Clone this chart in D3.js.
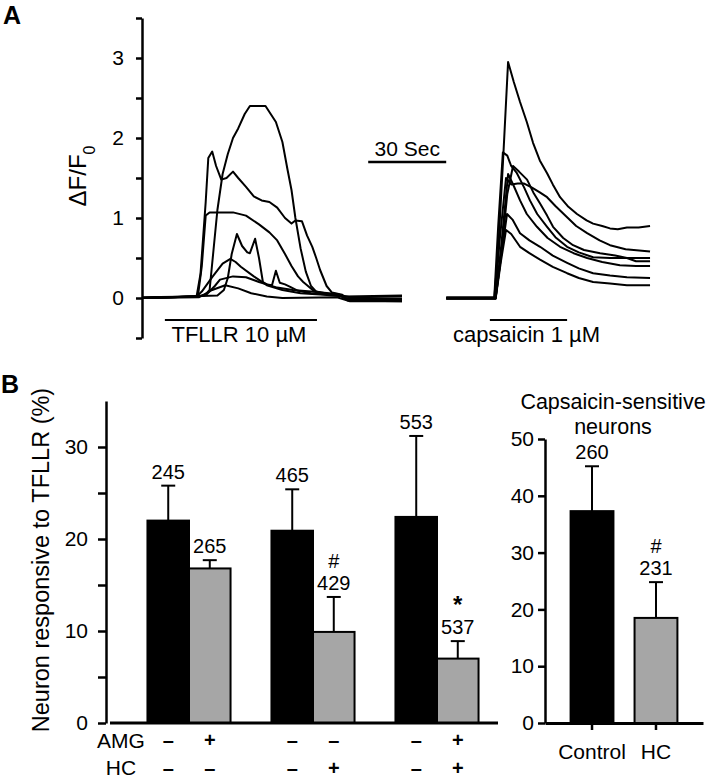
<!DOCTYPE html>
<html>
<head>
<meta charset="utf-8">
<script src="https://cdn.jsdelivr.net/npm/d3@7"></script>
<style>
  body { margin: 0; background: #fff; }
  svg { display: block; font-family: "Liberation Sans", Arial, sans-serif; }
</style>
</head>
<body>
<div id="chart"></div>
<script>
// ---- panel A: calcium traces (time in s, dF/F0) ----
const traceA = [[0,0],[12,0.01],[24,0.03],[26,0.1],[27.5,0.6],[29,1.1],[31,1.55],[33,1.8],[35,2.0],[37,2.12],[39.5,2.3],[41.5,2.4],[47.5,2.4],[51.5,2.2],[54,1.95],[56,1.6],[57.5,1.35],[59,1.0],[61,0.62],[63,0.33],[65,0.15],[67,0.08],[72,0.05],[76,0.04],[78,0],[100,-0.02]];
const traceB = [[0,0.01],[21,0.02],[22.5,0.3],[24.5,1.2],[25.5,1.75],[27,1.83],[28.5,1.65],[30.5,1.48],[32.5,1.5],[35,1.58],[37,1.5],[40,1.39],[43,1.27],[46,1.22],[49,1.2],[52,1.13],[55,1.0],[57.5,0.93],[59,0.97],[61.5,0.96],[63.5,0.78],[65.5,0.64],[67,0.5],[68.5,0.35],[71,0.15],[73,0.07],[77,0.04],[79,-0.03],[100,-0.04]];
const traceC = [[0,0],[21.5,0.02],[23,0.4],[24.5,1.03],[26,1.07],[35,1.07],[40,1.03],[45,0.92],[49,0.82],[52,0.72],[55,0.55],[57.5,0.4],[60,0.27],[62,0.2],[66,0.09],[70,0.05],[77,0.03],[80,0.01],[100,0.02]];
const traceD = [[0,0],[29,0.03],[31.5,0.1],[33,0.25],[34.5,0.55],[36.5,0.8],[38.5,0.65],[40.5,0.57],[41.5,0.56],[43.5,0.74],[45,0.5],[46.5,0.2],[48,0.17],[50,0.16],[51.5,0.34],[53,0.19],[55,0.17],[57,0.14],[60,0.09],[65,0.06],[76,0.03],[79,-0.02],[100,-0.03]];
const traceE = [[0,0],[21,0.02],[23,0.08],[27,0.26],[31,0.43],[34,0.49],[36,0.45],[38,0.39],[43,0.27],[48,0.16],[54,0.1],[61,0.06],[70,0.04],[78,0.02],[100,0.03]];
const traceF = [[0,0],[22,0.02],[25,0.05],[28,0.15],[30,0.23],[35,0.27],[40,0.26],[45,0.2],[52,0.13],[58,0.1],[65,0.08],[75,0.05],[79,-0.01],[100,-0.01]];
const traceG = [[0,0],[22,0.01],[27,0.1],[32,0.16],[37,0.12],[42,0.06],[48,0.02],[54,0],[75,0.01],[80,-0.04],[100,-0.04]];
const tfllrTraces = [traceA, traceB, traceC, traceD, traceE, traceF, traceG];

const caps1 = [[117,0],[135.5,0],[137,0.6],[139,1.8],[140.8,2.95],[143,2.7],[145.4,2.45],[148,2.2],[150.4,1.94],[153,1.72],[155.8,1.56],[158,1.42],[160.8,1.26],[164,1.14],[167.3,1.05],[171,0.97],[173.5,0.93],[177,0.9],[180,0.87],[183,0.86],[186.5,0.88],[191,0.88],[195.4,0.9]];
const caps2 = [[117,0.01],[135.5,0.01],[137,0.9],[138.8,1.82],[140.5,1.78],[142,1.65],[144.2,1.56],[147,1.38],[149.2,1.22],[152,1.05],[155.8,0.89],[159,0.76],[163.5,0.64],[168,0.57],[173.5,0.51],[180,0.5],[186.5,0.5],[190,0.46],[195.4,0.46]];
const caps3 = [[117,-0.01],[135.8,-0.01],[137.5,0.7],[140,1.5],[142,1.42],[144.5,1.43],[147,1.43],[150,1.38],[153,1.32],[155.8,1.26],[159,1.15],[163.5,1.01],[167,0.9],[171.2,0.81],[176,0.72],[180,0.66],[186,0.61],[195.4,0.58]];
const caps4 = [[117,0],[136,0],[138,0.5],[140.5,1.3],[142.7,1.65],[145,1.58],[148.1,1.48],[150.5,1.32],[153.1,1.18],[155.8,1.03],[158.1,0.89],[162,0.75],[165.8,0.66],[170,0.6],[176.2,0.56],[182,0.53],[186.5,0.5],[195.4,0.5]];
const caps5 = [[117,0],[136,0],[138,0.6],[140.8,1.55],[143,1.4],[145.4,1.22],[148,1.05],[151.9,0.89],[156,0.75],[160.8,0.64],[166,0.56],[171.2,0.5],[177,0.45],[183.8,0.41],[190,0.4],[195.4,0.4]];
const caps6 = [[117,0],[136,0],[138,0.5],[140.4,1.05],[142.5,0.98],[145.4,0.81],[149,0.72],[153.1,0.64],[158,0.53],[163.5,0.44],[168,0.37],[173.5,0.31],[180,0.28],[186.5,0.26],[195.4,0.25]];
const caps7 = [[117,-0.01],[136,-0.01],[138,0.45],[140,0.85],[142,0.8],[145.4,0.64],[149,0.56],[153.1,0.48],[158,0.39],[163.5,0.31],[168,0.25],[173.5,0.2],[180,0.18],[186.5,0.16],[195.4,0.16]];
const capsTraces = [caps1, caps2, caps3, caps4, caps5, caps6, caps7];

const yTicksA = [0, 1, 2, 3];
const stimBars = [
  { label: 'TFLLR 10 \u00b5M', t0: 8.8, t1: 67.3 },
  { label: 'capsaicin 1 \u00b5M', t0: 133.8, t1: 163.5 }
];
const scaleBarStart = 87, scaleBarSec = 30, scaleBarLevel = 1.7;

// ---- panel B: bar charts ----
const groups = ['g1', 'g2', 'g3'];
const conds = ['ctrl', 'treat'];
const tfllrMean = [22.0, 16.8, 20.9, 9.9, 22.4, 7.0];
const tfllrErr  = [3.8, 0.9, 4.5, 3.8, 8.8, 1.9];
const tfllrN    = ['245', '265', '465', '429', '553', '537'];
const tfllrMark = ['', '', '', '#', '', '*'];
const amgRow = ['\u2013', '+', '\u2013', '\u2013', '\u2013', '+'];
const hcRow  = ['\u2013', '\u2013', '\u2013', '+', '\u2013', '+'];
const yTicksB = [0, 10, 20, 30];

const capsGroups = ['Control', 'HC'];
const capsMean = [37.3, 18.5];
const capsErr  = [7.9, 6.3];
const capsN    = ['260', '231'];
const capsMark = ['', '#'];
const yTicksC = [0, 10, 20, 30, 40, 50];

const w = 714, h = 778;
const fs = 21;
const svg = d3.select('#chart').append('svg').attr('width', w).attr('height', h);
svg.append('rect').attr('width', w).attr('height', h).attr('fill', '#fff');

const fill = ['#000', '#a6a6a6'];

// ===== panel A =====
const xT = d3.scaleLinear().domain([0, 200]).range([142, 662]);
const yA = d3.scaleLinear().domain([-0.5, 3.5]).range([338, 18]);

const axA = svg.append('g').attr('transform', 'translate(142,0)')
  .call(d3.axisLeft(yA).tickValues(d3.range(-0.5, 3.51, 0.5)).tickSize(6).tickSizeOuter(0)
    .tickFormat(d => yTicksA.includes(d) ? d : ''));
axA.select('.domain').attr('stroke-width', 2.5);
axA.selectAll('.tick line').attr('stroke-width', 2.5);
axA.selectAll('.tick text').attr('font-size', fs).attr('font-family', null).attr('x', -18);

const line = d3.line().x(d => xT(d[0])).y(d => yA(d[1]));
svg.append('g').selectAll('path').data(tfllrTraces.concat(capsTraces)).join('path')
  .attr('d', line).attr('fill', 'none').attr('stroke', '#000')
  .attr('stroke-width', 2).attr('stroke-linejoin', 'round');

svg.selectAll('.stim').data(stimBars).join('g').attr('class', 'stim').each(function(d) {
  const g = d3.select(this);
  g.append('line').attr('x1', xT(d.t0)).attr('x2', xT(d.t1))
    .attr('y1', yA(-0.275)).attr('y2', yA(-0.275)).attr('stroke', '#000').attr('stroke-width', 2);
  g.append('text').attr('x', (xT(d.t0) + xT(d.t1)) / 2 - 2).attr('y', 342)
    .attr('text-anchor', 'middle').attr('font-size', 22).text(d.label);
});

svg.append('line').attr('x1', xT(scaleBarStart)).attr('x2', xT(scaleBarStart + scaleBarSec))
  .attr('y1', yA(scaleBarLevel)).attr('y2', yA(scaleBarLevel)).attr('stroke', '#000').attr('stroke-width', 2.5);
svg.append('text').attr('x', (xT(scaleBarStart) + xT(scaleBarStart + scaleBarSec)) / 2)
  .attr('y', yA(scaleBarLevel) - 6).attr('text-anchor', 'middle').attr('font-size', fs).text('30 Sec');

const yLabA = svg.append('text').attr('transform', 'translate(86,176) rotate(-90)')
  .attr('text-anchor', 'middle').attr('font-size', 24);
yLabA.append('tspan').text('\u0394F/F');
yLabA.append('tspan').attr('baseline-shift', 'sub').attr('font-size', 16).text('0');

svg.append('text').attr('x', 3).attr('y', 24).attr('font-size', 25).attr('font-weight', 'bold').text('A');
svg.append('text').attr('x', 1).attr('y', 393).attr('font-size', 25).attr('font-weight', 'bold').text('B');

// ===== panel B left =====
const yB = d3.scaleLinear().domain([0, 35]).range([723, 401]);
const xG = d3.scaleBand().domain(groups).range([127, 499]).paddingInner(0.33).paddingOuter(0.165);
const xC = d3.scaleBand().domain(conds).range([0, xG.bandwidth()]);

const axB = svg.append('g').attr('transform', 'translate(106,0)')
  .call(d3.axisLeft(yB).tickValues(d3.range(0, 31, 5)).tickSize(8).tickSizeOuter(0)
    .tickFormat(d => yTicksB.includes(d) ? d : ''));
axB.select('.domain').attr('stroke-width', 2.5);
axB.selectAll('.tick line').attr('stroke-width', 2.5);
axB.selectAll('.tick text').attr('font-size', fs).attr('font-family', null).attr('x', -18);

const barsB = groups.flatMap((g, gi) => conds.map((c, ci) => {
  const i = gi * 2 + ci;
  return { g, c, ci, mean: tfllrMean[i], err: tfllrErr[i], n: tfllrN[i], mark: tfllrMark[i], amg: amgRow[i], hc: hcRow[i],
    x: xG(g) + xC(c), bw: xC.bandwidth() };
}));

function drawBars(data, y) {
  const gb = svg.append('g');
  // error bars first, bars drawn over them
  gb.selectAll('.err').data(data).join('g').each(function(d) {
    const cx = d.x + d.bw / 2, top = y(d.mean + d.err);
    const g = d3.select(this);
    g.append('line').attr('x1', cx).attr('x2', cx).attr('y1', y(d.mean)).attr('y2', top)
      .attr('stroke', '#000').attr('stroke-width', 2);
    g.append('line').attr('x1', cx - 7).attr('x2', cx + 7).attr('y1', top).attr('y2', top)
      .attr('stroke', '#000').attr('stroke-width', 2);
    g.append('text').attr('x', cx).attr('y', top - 7).attr('text-anchor', 'middle')
      .attr('font-size', 20).text(d.n);
    if (d.mark === '*') {
      g.append('text').attr('x', cx).attr('y', top - 7 - 21).attr('text-anchor', 'middle')
        .attr('font-size', 24).attr('font-weight', 'bold').text(d.mark);
    } else if (d.mark) {
      g.append('text').attr('x', cx).attr('y', top - 7 - 22).attr('text-anchor', 'middle')
        .attr('font-size', 20).text(d.mark);
    }
  });
  gb.selectAll('rect').data(data).join('rect')
    .attr('x', d => d.x).attr('width', d => d.bw)
    .attr('y', d => y(d.mean)).attr('height', d => y(0) - y(d.mean))
    .attr('fill', d => fill[d.ci]).attr('stroke', '#000').attr('stroke-width', 2);
}
drawBars(barsB, yB);

svg.append('line').attr('x1', 110).attr('x2', 498).attr('y1', yB(0)).attr('y2', yB(0))
  .attr('stroke', '#000').attr('stroke-width', 3);

svg.append('text').attr('transform', 'translate(49,560) rotate(-90)')
  .attr('text-anchor', 'middle').attr('font-size', 23.5).text('Neuron responsive to TFLLR (%)');

svg.append('text').attr('x', 121).attr('y', 748).attr('text-anchor', 'middle').attr('font-size', fs).text('AMG');
svg.append('text').attr('x', 121).attr('y', 775).attr('text-anchor', 'middle').attr('font-size', fs).text('HC');
svg.selectAll('.amg').data(barsB).join('text').attr('class', 'amg')
  .attr('x', d => d.x + d.bw / 2).attr('y', 747).attr('text-anchor', 'middle')
  .attr('font-size', 20).attr('font-weight', 'bold').text(d => d.amg);
svg.selectAll('.hc').data(barsB).join('text').attr('class', 'hc')
  .attr('x', d => d.x + d.bw / 2).attr('y', 775).attr('text-anchor', 'middle')
  .attr('font-size', 20).attr('font-weight', 'bold').text(d => d.hc);

// ===== panel B right =====
const yCap = d3.scaleLinear().domain([0, 50]).range([723, 439]);
const xCap = d3.scaleBand().domain(capsGroups).range([545, 703]).paddingInner(0.33).paddingOuter(0.4);

const axC = svg.append('g').attr('transform', 'translate(545,0)')
  .call(d3.axisLeft(yCap).tickValues(yTicksC).tickSize(7).tickSizeOuter(0));
axC.select('.domain').attr('stroke-width', 2.5);
axC.selectAll('.tick line').attr('stroke-width', 2.5);
axC.selectAll('.tick text').attr('font-size', fs).attr('font-family', null).attr('x', -11);

const barsC = capsGroups.map((g, i) => ({ g, ci: i, mean: capsMean[i], err: capsErr[i], n: capsN[i], mark: capsMark[i],
  x: xCap(g), bw: xCap.bandwidth() }));
drawBars(barsC, yCap);

const axCx = svg.append('g').attr('transform', 'translate(0,723)')
  .call(d3.axisBottom(xCap).tickSize(7).tickSizeOuter(0));
axCx.select('.domain').attr('stroke-width', 3);
axCx.selectAll('.tick line').attr('stroke-width', 2.5);
axCx.selectAll('.tick text').attr('font-size', fs).attr('font-family', null).attr('dy', null).attr('y', 36);

svg.append('text').attr('x', 613).attr('y', 409).attr('text-anchor', 'middle').attr('font-size', 21.5).text('Capsaicin-sensitive');
svg.append('text').attr('x', 613).attr('y', 434).attr('text-anchor', 'middle').attr('font-size', 21.5).text('neurons');
</script>
</body>
</html>
